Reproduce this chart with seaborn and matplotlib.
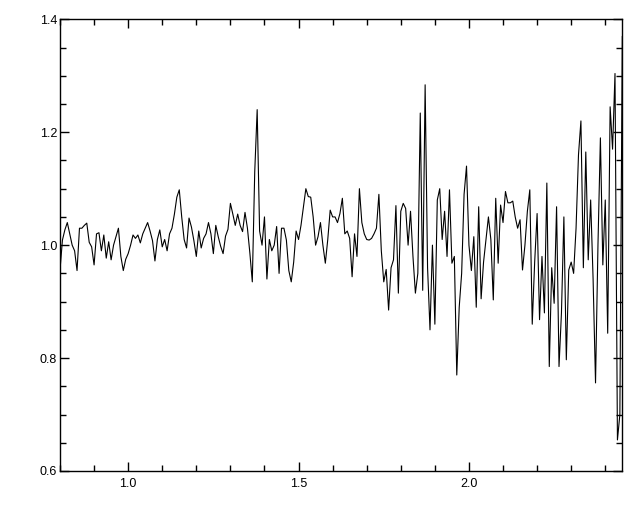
import numpy as np
import matplotlib.pyplot as plt
import seaborn as sns
from matplotlib.ticker import MultipleLocator

sns.set_style("ticks")
plt.rcParams["font.family"] = ["Liberation Sans", "DejaVu Sans"]

# flux, one row per 0.05 micron starting at 0.80
flux = [
    0.956, 1.009, 1.027, 1.040, 1.020, 1.000, 0.990,   # 0.80
    0.955, 1.030, 1.030, 1.035, 1.039, 1.005, 0.997,   # 0.85
    0.965, 1.020, 1.022, 0.990, 1.018, 0.977, 1.006,   # 0.90
    0.974, 1.000, 1.015, 1.030, 0.980, 0.955, 0.975,   # 0.95
    0.985, 1.000, 1.018, 1.012, 1.018, 1.004, 1.020,   # 1.00
    1.030, 1.040, 1.025, 1.008, 0.972, 1.010, 1.027,   # 1.05
    0.997, 1.010, 0.990, 1.020, 1.030, 1.055, 1.085,   # 1.10
    1.098, 1.050, 1.010, 0.995, 1.048, 1.032, 1.008,   # 1.15
    0.980, 1.025, 0.995, 1.012, 1.020, 1.040, 1.020,   # 1.20
    0.985, 1.035, 1.015, 0.998, 0.985, 1.016, 1.028,   # 1.25
    1.074, 1.055, 1.035, 1.055, 1.035, 1.024, 1.058,   # 1.30
    1.030, 0.986, 0.935, 1.130, 1.240, 1.025, 1.000,   # 1.35
    1.050, 0.940, 1.010, 0.990, 1.000, 1.033, 0.950,   # 1.40
    1.030, 1.030, 1.009, 0.955, 0.935, 0.970, 1.025,   # 1.45
    1.010, 1.035, 1.068, 1.100, 1.086, 1.085, 1.050,   # 1.50
    1.000, 1.015, 1.040, 1.000, 0.968, 1.010, 1.062,   # 1.55
    1.050, 1.050, 1.040, 1.056, 1.083, 1.020, 1.025,   # 1.60
    1.012, 0.944, 1.020, 0.980, 1.100, 1.040, 1.020,   # 1.65
    1.010, 1.009, 1.012, 1.020, 1.030, 1.090, 0.990,   # 1.70
    0.935, 0.957, 0.885, 0.960, 0.974, 1.070, 0.915,   # 1.75
    1.060, 1.074, 1.065, 1.000, 1.060, 0.980, 0.915,   # 1.80
    0.950, 1.234, 0.920, 1.284, 0.960, 0.850, 1.000,   # 1.85
    0.860, 1.080, 1.100, 1.010, 1.060, 0.980, 1.098,   # 1.90
    0.968, 0.980, 0.770, 0.890, 0.950, 1.090, 1.140,   # 1.95
    1.000, 0.955, 1.015, 0.890, 1.068, 0.905, 0.970,   # 2.00
    1.010, 1.050, 1.010, 0.903, 1.083, 0.968, 1.071,   # 2.05
    1.040, 1.095, 1.075, 1.075, 1.078, 1.050, 1.030,   # 2.10
    1.045, 0.956, 1.000, 1.060, 1.098, 0.860, 0.970,   # 2.15
    1.056, 0.868, 0.980, 0.880, 1.110, 0.785, 0.960,   # 2.20
    0.897, 1.068, 0.785, 0.880, 1.050, 0.797, 0.956,   # 2.25
    0.970, 0.950, 1.030, 1.160, 1.220, 0.960, 1.165,   # 2.30
    0.974, 1.080, 0.940, 0.756, 1.000, 1.190, 0.965,   # 2.35
    1.080, 0.844, 1.245, 1.170, 1.304, 0.655, 0.700,   # 2.40
    1.370,
]
wave = np.linspace(0.80, 2.45, len(flux))

fig = plt.figure(figsize=(6.4, 5.12), dpi=100)
ax = fig.add_axes([0.09375, 0.0801, 0.8786, 0.8822])

sns.lineplot(x=wave, y=flux, ax=ax, color="black", linewidth=0.8,
             estimator=None, sort=False)

ax.set_xlim(0.80, 2.45)
ax.set_ylim(0.6, 1.4)
ax.xaxis.set_major_locator(MultipleLocator(0.5))
ax.xaxis.set_minor_locator(MultipleLocator(0.1))
ax.yaxis.set_major_locator(MultipleLocator(0.2))
ax.yaxis.set_minor_locator(MultipleLocator(0.05))
ax.xaxis.set_major_formatter(plt.FormatStrFormatter("%.1f"))
ax.yaxis.set_major_formatter(plt.FormatStrFormatter("%.1f"))

ax.tick_params(which="both", direction="in", top=True, right=True,
               color="black", width=1, labelsize=9, labelcolor="black")
ax.tick_params(which="major", length=6.7)
ax.tick_params(which="minor", length=4.1)
ax.tick_params(axis="x", pad=5)
ax.tick_params(axis="y", pad=2)
for s in ax.spines.values():
    s.set_visible(True)
    s.set_color("black")
    s.set_linewidth(1)
ax.set_xlabel("")
ax.set_ylabel("")

fig.savefig("out.png", dpi=100)
plt.close()
